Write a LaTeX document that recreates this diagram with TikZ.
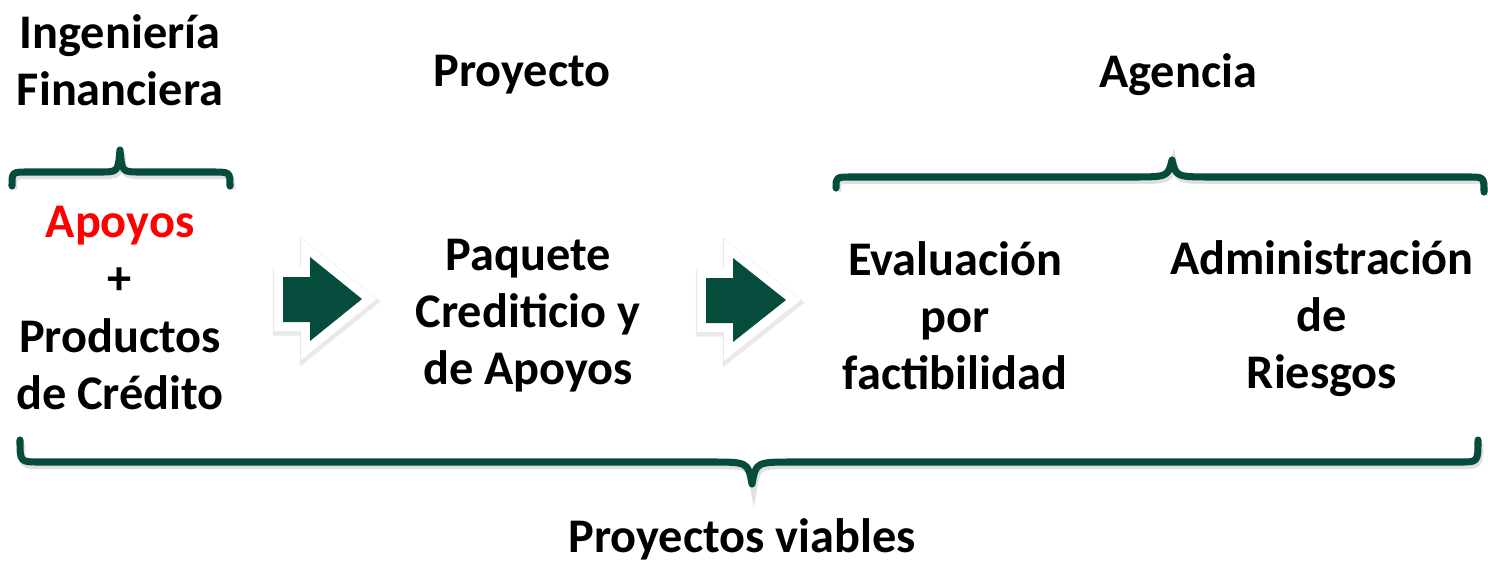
\documentclass[tikz,border=0pt]{standalone}
\usepackage{fontspec}
\setmainfont{Carlito}
\usepackage{tikz}

\definecolor{verde}{HTML}{054C3C}

\tikzset{
  txt/.style={font=\fontsize{27.5}{32.5}\selectfont\bfseries, align=center, inner sep=0pt},
  brace/.style={draw=verde, line width=4pt, line cap=round, line join=round,
    preaction={draw=black!35, opacity=.35, line width=4pt, transform canvas={shift={(1pt,-2pt)}}}},
  flecha/.style={fill=verde, line join=miter,
    preaction={draw=black!40, opacity=.22, line width=0.44cm, transform canvas={shift={(0.5pt,-1.5pt)}}},
    preaction={draw=white, line width=0.36cm}}
}

\begin{document}
\begin{tikzpicture}[x=0.02cm, y=-0.02cm]
\useasboundingbox (0,0) rectangle (1488,565);

\node[txt] (h1) at (120,60) {Ingeniería\\Financiera};
\node[txt] (h2) at (522,75) {Proyecto};
\node[txt] (h3) at (1178,75) {Agencia};

\node[txt] (c1) at (120,308) {\textcolor{red}{Apoyos}\\+\\Productos\\de Crédito};
\node[txt] (c2) at (528,316) {Paquete\\Crediticio y\\de Apoyos};
\node[txt] (c3) at (955,316) {Evaluación\\por\\factibilidad};
\node[txt] (c4) at (1322,319) {Administración\\de\\Riesgos};

\node[txt, anchor=base] (f) at (742,552) {Proyectos viables};

% flechas
\path[flecha] (283,277) -- (310,277) -- (310,257) -- (362,299) -- (310,341) -- (310,322) -- (283,322) -- cycle;
\path[flecha] (706,278) -- (733,278) -- (733,258) -- (786,300) -- (733,342) -- (733,323) -- (706,323) -- cycle;

% llaves
\draw[brace] (12,186) .. controls (12,172) .. (28,172) -- (100,172) .. controls (118,172) .. (120,150)
   .. controls (122,172) .. (140,172) -- (212,172) .. controls (230,172) .. (230,186);
\draw[brace] (836,188) .. controls (836,177) .. (852,177) -- (1130,177) .. controls (1168,177) .. (1172,160)
   .. controls (1176,177) .. (1214,177) -- (1468,177) .. controls (1484,177) .. (1484,192);
\draw[brace] (20,440) .. controls (20,462) .. (40,462) -- (710,462) .. controls (748,462) .. (752,484)
   .. controls (756,462) .. (794,462) -- (1460,462) .. controls (1478,462) .. (1478,440);

\end{tikzpicture}
\end{document}
